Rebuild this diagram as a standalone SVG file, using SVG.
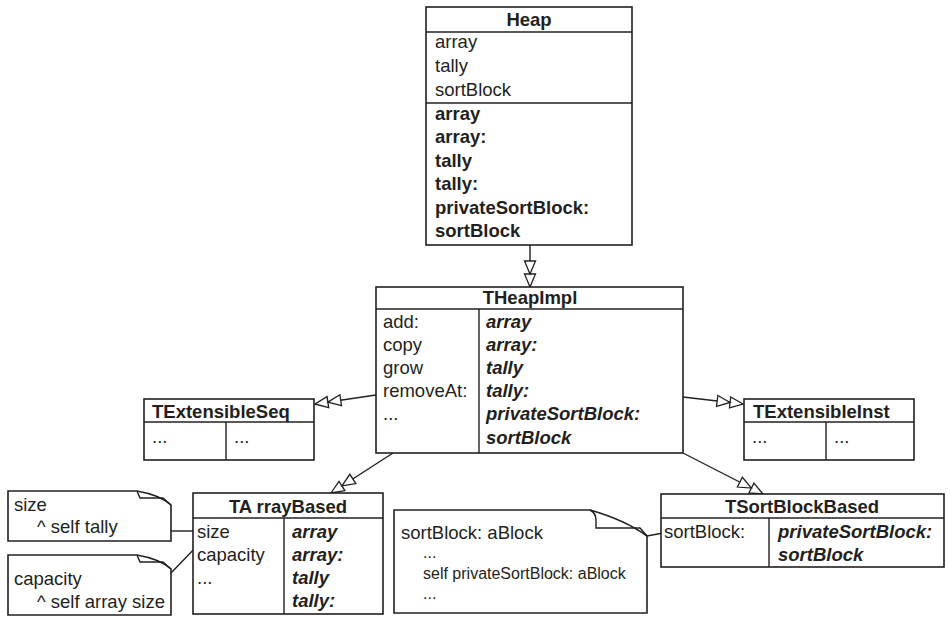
<svg xmlns="http://www.w3.org/2000/svg" width="950" height="618" viewBox="0 0 950 618">
<defs>
<style>
.box{fill:#fff;stroke:#231f20;stroke-width:1.6}
.ln{fill:none;stroke:#231f20;stroke-width:1.4}
text{font-family:"Liberation Sans",Arial,sans-serif;font-size:18.5px;fill:#231f20}
.t{font-weight:bold;text-anchor:middle}
.b{font-weight:bold}
.bi{font-weight:bold;font-style:italic}
.sm{font-size:16px}
</style>
<marker id="dtri" viewBox="-1 -7 29 14" refX="27" refY="0" markerWidth="29" markerHeight="14" markerUnits="userSpaceOnUse" orient="auto">
<path d="M27,0 L14,-5.5 L14,5.5 Z M14,0 L1,-5.5 L1,5.5 Z" fill="#fff" stroke="#231f20" stroke-width="1.3"/>
</marker>
</defs>
<rect width="950" height="618" fill="#fff"/>
<g id="connectors">
<line class="ln" x1="530" y1="245" x2="530" y2="287" marker-end="url(#dtri)"/>
<line class="ln" x1="376" y1="395" x2="315" y2="404" marker-end="url(#dtri)"/>
<line class="ln" x1="683" y1="397" x2="743" y2="404" marker-end="url(#dtri)"/>
<line class="ln" x1="393" y1="453" x2="331" y2="493" marker-end="url(#dtri)"/>
<line class="ln" x1="683" y1="453" x2="763" y2="494" marker-end="url(#dtri)"/>
<line class="ln" x1="171" y1="531" x2="196" y2="531"/>
<line class="ln" x1="171" y1="573" x2="198" y2="545"/>
<line class="ln" x1="647" y1="536" x2="663" y2="533"/>
</g>
<g id="Heap">
<rect class="box" x="426" y="7" width="206" height="238"/>
<line class="ln" x1="426" y1="32" x2="632" y2="32"/>
<line class="ln" x1="426" y1="103" x2="632" y2="103"/>
<text class="t" x="529" y="26">Heap</text>
<text x="435" y="48">array</text>
<text x="435" y="72">tally</text>
<text x="435" y="96">sortBlock</text>
<text class="b" x="435" y="120">array</text>
<text class="b" x="435" y="143">array:</text>
<text class="b" x="435" y="167">tally</text>
<text class="b" x="435" y="190">tally:</text>
<text class="b" x="435" y="214">privateSortBlock:</text>
<text class="b" x="435" y="237">sortBlock</text>
</g>
<g id="THeapImpl">
<rect class="box" x="376" y="287" width="307" height="166"/>
<line class="ln" x1="376" y1="309" x2="683" y2="309"/>
<line class="ln" x1="479" y1="309" x2="479" y2="453"/>
<text class="t" x="530" y="304">THeapImpl</text>
<text x="383" y="328">add:</text>
<text x="383" y="351">copy</text>
<text x="383" y="374">grow</text>
<text x="383" y="397">removeAt:</text>
<text x="383" y="420">...</text>
<text class="bi" x="486" y="328">array</text>
<text class="bi" x="486" y="351">array:</text>
<text class="bi" x="486" y="374">tally</text>
<text class="bi" x="486" y="397">tally:</text>
<text class="bi" x="486" y="420">privateSortBlock:</text>
<text class="bi" x="486" y="444">sortBlock</text>
</g>
<g id="TExtensibleSeq">
<rect class="box" x="144" y="399" width="170" height="61"/>
<line class="ln" x1="144" y1="422" x2="314" y2="422"/>
<line class="ln" x1="226" y1="422" x2="226" y2="460"/>
<text class="b" x="152" y="418">TExtensibleSeq</text>
<text x="152" y="443">...</text>
<text x="234" y="443">...</text>
</g>
<g id="TExtensibleInst">
<rect class="box" x="744" y="399" width="170" height="61"/>
<line class="ln" x1="744" y1="422" x2="914" y2="422"/>
<line class="ln" x1="826" y1="422" x2="826" y2="460"/>
<text class="b" x="753" y="418">TExtensibleInst</text>
<text x="752" y="443">...</text>
<text x="834" y="443">...</text>
</g>
<g id="TArrayBased">
<rect class="box" x="193" y="493" width="190" height="121"/>
<line class="ln" x1="193" y1="518" x2="383" y2="518"/>
<line class="ln" x1="284" y1="518" x2="284" y2="614"/>
<text class="t" x="288" y="513">TA rrayBased</text>
<text x="197" y="538">size</text>
<text x="197" y="561">capacity</text>
<text x="197" y="584">...</text>
<text class="bi" x="292" y="538">array</text>
<text class="bi" x="292" y="561">array:</text>
<text class="bi" x="292" y="584">tally</text>
<text class="bi" x="292" y="607">tally:</text>
</g>
<g id="TSortBlockBased">
<rect class="box" x="661" y="494" width="283" height="73"/>
<line class="ln" x1="661" y1="518" x2="944" y2="518"/>
<line class="ln" x1="769" y1="518" x2="769" y2="567"/>
<text class="t" x="802" y="513">TSortBlockBased</text>
<text x="664" y="538">sortBlock:</text>
<text class="bi" x="778" y="538">privateSortBlock:</text>
<text class="bi" x="778" y="561">sortBlock</text>
</g>
<g id="note-size">
<path class="box" d="M8,491 H137 Q160,495 171,505 V541 H8 Z"/>
<path class="ln" d="M137,491 L140,498 H163 L171,505"/>
<text x="14" y="511">size</text>
<text x="37" y="533">^ self tally</text>
</g>
<g id="note-capacity">
<path class="box" d="M8,555 H137 Q160,559 171,569 V615 H8 Z"/>
<path class="ln" d="M137,555 L140,562 H163 L171,569"/>
<text x="14" y="585">capacity</text>
<text x="37" y="608">^ self array size</text>
</g>
<g id="note-sortBlock">
<path class="box" d="M394,510 H590 Q625,520 647,536 V613 H394 Z"/>
<path class="ln" d="M590,510 Q596,513 596,520 V528 H640 L647,536"/>
<text x="401" y="539">sortBlock: aBlock</text>
<text class="sm" x="423" y="558">...</text>
<text class="sm" x="423" y="579">self privateSortBlock: aBlock</text>
<text class="sm" x="423" y="599">...</text>
</g>
</svg>
